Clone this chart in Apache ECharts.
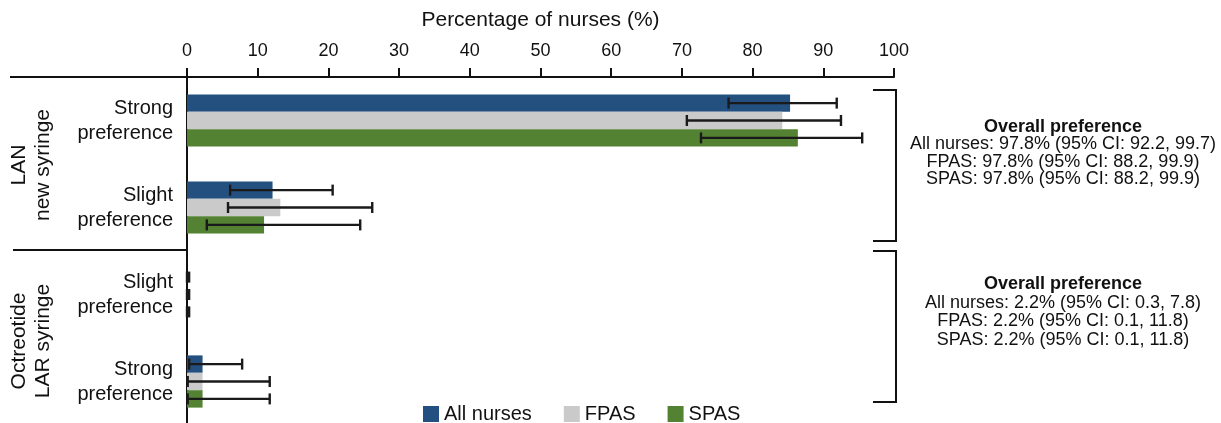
<!DOCTYPE html>
<html>
<head>
<meta charset="utf-8">
<script src="https://cdn.jsdelivr.net/npm/echarts@6/dist/echarts.min.js"></script>
<style>
html, body { margin: 0; padding: 0; background: #fff; }
#main { width: 1221px; height: 423px; }
</style>
</head>
<body>
<div id="main"></div>
<script>
// categories, top to bottom
const categories = ['LAN strong', 'LAN slight', 'Oct slight', 'Oct strong'];
const categoryLabels = ['Strong\npreference', 'Slight\npreference', 'Slight\npreference', 'Strong\npreference'];
const groupLabels = ['LAN\nnew syringe', 'Octreotide\nLAR syringe'];
const seriesNames = ['All nurses', 'FPAS', 'SPAS'];

// percentages
const allNurses = [85.3, 12.1, 0, 2.2];
const fpas = [84.2, 13.2, 0, 2.2];
const spas = [86.4, 10.9, 0, 2.2];

// 95% CI [low, high]
const allNursesCI = [[76.6, 91.9], [6.1, 20.6], [0, 0.3], [0.3, 7.8]];
const fpasCI = [[70.7, 92.5], [5.8, 26.2], [0, 0.3], [0.1, 11.7]];
const spasCI = [[72.7, 95.5], [2.8, 24.5], [0, 0.3], [0.1, 11.7]];

const xMin = 0, xMax = 100, xStep = 10;

const summaryTitle = 'Overall preference';
const summaryLAN = [
  'All nurses: 97.8% (95% CI: 92.2, 99.7)',
  'FPAS: 97.8% (95% CI: 88.2, 99.9)',
  'SPAS: 97.8% (95% CI: 88.2, 99.9)'
];
const summaryOct = [
  'All nurses: 2.2% (95% CI: 0.3, 7.8)',
  'FPAS: 2.2% (95% CI: 0.1, 11.8)',
  'SPAS: 2.2% (95% CI: 0.1, 11.8)'
];

const colors = ['#24507f', '#cacaca', '#538233'];
const FONT = '"Liberation Sans", Arial, Helvetica, sans-serif';
const BAR_W = 17.4;
const DIR = 1;

const chart = echarts.init(document.getElementById('main'));

function errSeries(ci, idx) {
  return {
    type: 'custom',
    name: 'err' + idx,
    z: 5,
    silent: true,
    encode: { x: [1, 2], y: 0 },
    data: ci.map((d, i) => [i, d[0], d[1]]),
    renderItem: function (params, api) {
      const cat = api.value(0);
      const yc = api.coord([0, cat])[1] + DIR * (idx - 1) * BAR_W;
      const x0 = api.coord([api.value(1), cat])[0];
      const x1 = api.coord([api.value(2), cat])[0];
      const st = { stroke: '#1a1a1a', lineWidth: 2.4 };
      const h = 5.5;
      return {
        type: 'group',
        children: [
          { type: 'line', shape: { x1: x0, y1: yc, x2: x1, y2: yc }, style: st },
          { type: 'line', shape: { x1: x0, y1: yc - h, x2: x0, y2: yc + h }, style: st },
          { type: 'line', shape: { x1: x1, y1: yc - h, x2: x1, y2: yc + h }, style: st }
        ]
      };
    }
  };
}

function summaryText(lines) {
  return '{b|' + summaryTitle + '}\n' + lines.map(l => '{n|' + l + '}').join('\n');
}

const lineStyle = { stroke: '#111', lineWidth: 2 };

const option = {
  animation: false,
  textStyle: { fontFamily: FONT },
  grid: { left: 187, top: 77, width: 707, height: 348, outerBoundsMode: 'none', containLabel: false },
  xAxis: {
    type: 'value',
    position: 'top',
    min: xMin, max: xMax, interval: xStep,
    name: 'Percentage of nurses (%)',
    nameLocation: 'middle',
    nameGap: 46,
    nameMoveOverlap: false,
    nameTextStyle: { fontSize: 21, color: '#111', fontFamily: FONT },
    axisLine: { show: true, lineStyle: { color: '#111', width: 2 } },
    axisTick: { show: true, length: 9, lineStyle: { color: '#111', width: 2 } },
    axisLabel: { fontSize: 18, color: '#111', margin: 17, fontFamily: FONT },
    splitLine: { show: false }
  },
  yAxis: {
    type: 'category',
    inverse: true,
    data: categories,
    axisLine: { show: true, lineStyle: { color: '#111', width: 2 } },
    axisTick: { show: false },
    axisLabel: {
      fontSize: 20, color: '#111', lineHeight: 25, margin: 14, align: 'right',
      fontFamily: FONT,
      formatter: (v, i) => categoryLabels[i]
    }
  },
  legend: {
    data: seriesNames,
    left: 418, top: 399,
    icon: 'rect',
    itemWidth: 16, itemHeight: 16, itemGap: 32,
    textStyle: { fontSize: 20, color: '#111', fontFamily: FONT }
  },
  series: [
    { type: 'bar', name: seriesNames[0], data: allNurses, barWidth: BAR_W, barGap: '0%', itemStyle: { color: colors[0] } },
    { type: 'bar', name: seriesNames[1], data: fpas, barWidth: BAR_W, barGap: '0%', itemStyle: { color: colors[1] } },
    { type: 'bar', name: seriesNames[2], data: spas, barWidth: BAR_W, barGap: '0%', itemStyle: { color: colors[2] } },
    errSeries(allNursesCI, 0),
    errSeries(fpasCI, 1),
    errSeries(spasCI, 2)
  ],
  graphic: [
    { type: 'line', shape: { x1: 10, y1: 77, x2: 187, y2: 77 }, style: lineStyle },
    { type: 'line', shape: { x1: 13, y1: 250, x2: 187, y2: 250 }, style: lineStyle },
    { type: 'polyline', shape: { points: [[873, 90], [896, 90], [896, 241], [873, 241]] }, style: Object.assign({ fill: null }, lineStyle) },
    { type: 'polyline', shape: { points: [[873, 251], [896, 251], [896, 402], [873, 402]] }, style: Object.assign({ fill: null }, lineStyle) },
    {
      type: 'text', x: 31, y: 165, rotation: Math.PI / 2,
      style: { text: groupLabels[0], align: 'center', verticalAlign: 'middle', fontSize: 21, lineHeight: 24, fill: '#111', fontFamily: FONT }
    },
    {
      type: 'text', x: 31, y: 341, rotation: Math.PI / 2,
      style: { text: groupLabels[1], align: 'center', verticalAlign: 'middle', fontSize: 21, lineHeight: 24, fill: '#111', fontFamily: FONT }
    },
    {
      type: 'text', x: 1063, y: 118,
      style: {
        text: summaryText(summaryLAN), align: 'center', verticalAlign: 'top', fill: '#111',
        rich: {
          b: { fontSize: 18, fontWeight: 'bold', lineHeight: 17.5, fontFamily: FONT, align: 'center' },
          n: { fontSize: 18, lineHeight: 17.5, fontFamily: FONT, align: 'center' }
        }
      }
    },
    {
      type: 'text', x: 1063, y: 275,
      style: {
        text: summaryText(summaryOct), align: 'center', verticalAlign: 'top', fill: '#111',
        rich: {
          b: { fontSize: 18, fontWeight: 'bold', lineHeight: 18.5, fontFamily: FONT, align: 'center' },
          n: { fontSize: 18, lineHeight: 18.5, fontFamily: FONT, align: 'center' }
        }
      }
    }
  ]
};

chart.setOption(option);
</script>
</body>
</html>
